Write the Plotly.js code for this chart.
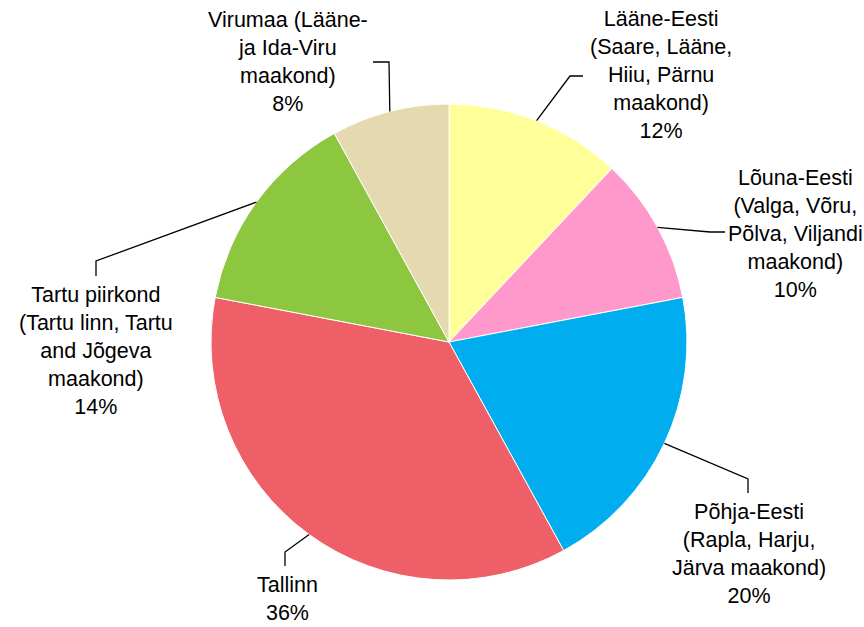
<!DOCTYPE html>
<html>
<head>
<meta charset="utf-8">
<script src="https://cdn.plot.ly/plotly-3.0.1.min.js"></script>
<style>html,body{margin:0;padding:0;background:#fff;}#chart{width:864px;height:627px;}</style>
</head>
<body>
<div id="chart"></div>
<script>
// ---- data ----
const categories = [
  "Lääne-Eesti (Saare, Lääne, Hiiu, Pärnu maakond)",
  "Lõuna-Eesti (Valga, Võru, Põlva, Viljandi maakond)",
  "Põhja-Eesti (Rapla, Harju, Järva maakond)",
  "Tallinn",
  "Tartu piirkond (Tartu linn, Tartu and Jõgeva maakond)",
  "Virumaa (Lääne- ja Ida-Viru maakond)"
];
const labelLines = [
  "Lääne-Eesti<br>(Saare, Lääne,<br>Hiiu, Pärnu<br>maakond)",
  "Lõuna-Eesti<br>(Valga, Võru,<br>Põlva, Viljandi<br>maakond)",
  "Põhja-Eesti<br>(Rapla, Harju,<br>Järva maakond)",
  "Tallinn",
  "Tartu piirkond<br>(Tartu linn, Tartu<br>and Jõgeva<br>maakond)",
  "Virumaa (Lääne-<br>ja Ida-Viru<br>maakond)"
];
const shares = [12, 10, 20, 36, 14, 8];

// ---- styles / layout ----
const colors = ["#FFFF99", "#FF99CC", "#00AEEF", "#EF5F67", "#8DC63F", "#E5D9AF"];
const W = 864, H = 627;
const CX = 449, CY = 342, R = 238;
// label centres, leader elbow and end points (pixels)
const labelPos = [[661, 75.5], [795, 234], [749, 553.5], [287, 598.5], [96, 351.5], [288, 61.5]];
const elbowPos = [[570, 76], [710, 232], [748, 479], [285, 552], [96, 261], [389, 62]];
const endPos   = [[583, 76], [725, 232], [748, 493], [285, 566], [96, 276], [373, 62]];

const px = x => x / W;
const py = y => 1 - y / H;

const total = shares.reduce((a, b) => a + b, 0);
let cum = 0;
const shapes = [];
const annotations = [];
shares.forEach((v, i) => {
  const mid = (cum + v / 2) / total * 2 * Math.PI;
  cum += v;
  const sx = CX + R * Math.sin(mid), sy = CY - R * Math.cos(mid);
  const [ex, ey] = elbowPos[i], [tx, ty] = endPos[i];
  shapes.push({
    type: "path", xref: "paper", yref: "paper",
    path: `M${px(sx)},${py(sy)} L${px(ex)},${py(ey)} L${px(tx)},${py(ty)}`,
    line: {color: "#000", width: 1.3}
  });
  annotations.push({
    xref: "paper", yref: "paper", x: px(labelPos[i][0]), y: py(labelPos[i][1]),
    xanchor: "center", yanchor: "middle", showarrow: false, align: "center",
    text: labelLines[i] + "<br>" + v + "%",
    font: {family: "Liberation Sans, Arial, sans-serif", size: 21.5, color: "#000"}
  });
});

const trace = {
  type: "pie",
  labels: categories,
  values: shares,
  sort: false,
  direction: "clockwise",
  rotation: 0,
  textinfo: "none",
  hoverinfo: "none",
  marker: {colors: colors, line: {color: "#ffffff", width: 1}},
  domain: {x: [(CX - R) / W, (CX + R) / W], y: [1 - (CY + R) / H, 1 - (CY - R) / H]}
};

const layout = {
  width: W, height: H,
  margin: {l: 0, r: 0, t: 0, b: 0},
  paper_bgcolor: "#ffffff",
  plot_bgcolor: "#ffffff",
  showlegend: false,
  shapes: shapes,
  annotations: annotations
};

Plotly.newPlot("chart", [trace], layout, {displayModeBar: false, staticPlot: true});
</script>
</body>
</html>
